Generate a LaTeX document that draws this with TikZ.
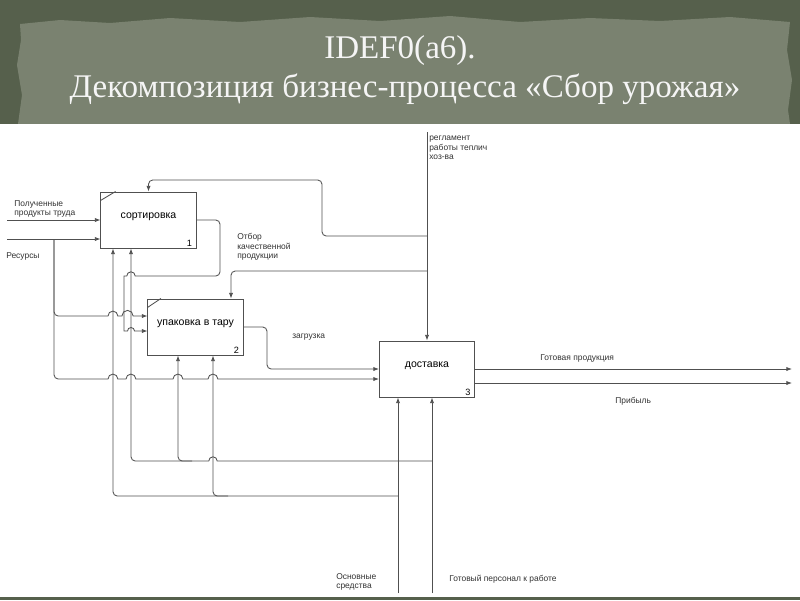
\documentclass[tikz,border=0pt]{standalone}
\usepackage{fontspec}
\setmainfont{Liberation Sans}
\newfontfamily\titlefont{Liberation Serif}
\usetikzlibrary{arrows.meta,positioning}

\definecolor{slidedark}{RGB}{86,96,76}
\definecolor{slidepanel}{RGB}{122,130,112}
\definecolor{linegray}{RGB}{80,80,80}

\tikzset{
  func/.style={draw=linegray, line width=0.7pt, minimum width=2.375cm, minimum height=1.4cm,
    inner sep=0pt, font=\fontsize{7.5}{9}\selectfont, text depth=6pt},
  num/.style={anchor=south east, inner xsep=3pt, inner ysep=1.5pt, font=\fontsize{6.5}{7}\selectfont},
  flow/.style={draw=linegray, line width=0.6pt, -{Latex[length=4pt,width=3pt]}, rounded corners=3pt},
  lbl/.style={anchor=west, align=left, inner sep=0pt, text=black!80, font=\fontsize{6}{6.8}\selectfont},
  title/.style={anchor=base, text=white!96!black, font=\titlefont\fontsize{23.5}{27}\selectfont},
}

\begin{document}
\begin{tikzpicture}[x=0.025cm,y=-0.025cm]
	\useasboundingbox (0,0) rectangle (800,600);

	% slide background
	\fill[slidedark] (0,0) rectangle (800,600);
	\fill[slidepanel] (20,24) -- (60,20) -- (110,23) -- (170,18) -- (240,22) -- (310,17) -- (380,21)
		-- (450,16) -- (520,22) -- (590,18) -- (660,21) -- (730,17) -- (790,22) -- (787,50)
		-- (792,80) -- (788,110) -- (790,124) -- (18,124) -- (22,95) -- (17,65) -- (21,40) -- cycle;
	\fill[white] (0,124) rectangle (800,597);

	\node[title] (ttl1) at (400,58) {IDEF0(a6).};
	\node[title] (ttl2) at (405,97) {Декомпозиция бизнес-процесса «Сбор урожая»};

	% functions
	\node[func] (sort) at (148.5,220) {сортировка};
	\node[func] (pack) at (195.5,327) {упаковка в тару};
	\node[func] (ship) at (427,369) {доставка};
	\node[num] (n1) at (sort.south east) {1};
	\node[num] (n2) at (pack.south east) {2};
	\node[num] (n3) at (ship.south east) {3};
	\draw[linegray, line width=0.6pt] ([yshift=-6.4pt]sort.north west) -- ([xshift=10.7pt]sort.north west);
	\draw[linegray, line width=0.6pt] ([yshift=-6.4pt]pack.north west) -- ([xshift=9.5pt]pack.north west);

	\coordinate (in1) at (7,220);
	\coordinate (in2) at (7,239);
	\coordinate (res) at (54,239);
	\coordinate (res2) at (54,316);
	\coordinate (res3) at (54,379);
	\coordinate (ctl) at (427,132);
	\coordinate (ctlA) at (427,236);
	\coordinate (ctlB) at (427,271);
	\coordinate (c2) at (231,271);
	\coordinate (osn) at (398,593);
	\coordinate (osnA) at (398,496);
	\coordinate (osnB) at (228,496);
	\coordinate (m1) at (113,496);
	\coordinate (m2) at (213,496);
	\coordinate (got) at (432,593);
	\coordinate (gotA) at (432,461);
	\coordinate (gotB) at (192,461);
	\coordinate (m3) at (131,461);
	\coordinate (m4) at (178,461);
	\coordinate (out1) at (792,369);
	\coordinate (out2) at (792,383);

	% inputs
	\draw[flow] (in1) -- (sort.west);
	\draw[flow] (in2) -- (sort.west |- in2);
	\draw[flow] (res) -- (res2) -- (80,316) [sharp corners] -- (108,316) arc[start angle=180,end angle=0,radius=3.5pt]
		-- (121.9,316) arc[start angle=180,end angle=0,radius=4pt] -- (pack.west |- res2);
	\draw[flow] (res) -- (res3) -- (80,379) [sharp corners] -- (108,379) arc[start angle=180,end angle=0,radius=3.5pt]
		-- (126,379) arc[start angle=180,end angle=0,radius=3.5pt]
		-- (173,379) arc[start angle=180,end angle=0,radius=3.5pt]
		-- (208,379) arc[start angle=180,end angle=0,radius=3.5pt] -- (ship.west |- res3);

	% outputs
	\draw[flow] (sort.east) -- (220,220) -- (220,276) -- (160,276) [sharp corners]
		-- (135.2,276) arc[start angle=0,end angle=180,radius=3pt] -- (124,276) -- (124,331)
		-- (127.5,331) arc[start angle=180,end angle=0,radius=2.5pt] -- (pack.west |- 0,331);
	\draw[flow] (pack.east) -- (267,327) -- (267,369) -- (ship.west);
	\draw[flow] (ship.east) -- (out1);
	\draw[flow] (ship.east |- out2) -- (out2);

	% controls
	\draw[flow] (ctl) -- (ship.north);
	\draw[flow] (ctlA) -- (322,236) -- (322,180) -- (148.5,180) -- (sort.north);
	\draw[flow] (ctlB) -- (c2) -- (c2 |- pack.north);

	% mechanisms
	\draw[flow] (osn) -- (osn |- ship.south);
	\draw[flow] (got) -- (got |- ship.south);
	\draw[flow] (osnA) -- (m1) -- (m1 |- sort.south);
	\draw[flow] (osnB) -- (m2) -- (m2 |- pack.south);
	\draw[flow] (gotA) [sharp corners] -- (217.2,461) arc[start angle=0,end angle=180,radius=3pt]
		-- (200,461) [rounded corners=3pt] -- (185,461) -- (m3) -- (m3 |- sort.south);
	\draw[flow] (gotB) -- (m4) -- (m4 |- pack.south);

	% labels
	\node[lbl] (lin1) at (14,209) {Полученные\\продукты труда};
	\node[lbl] (lres) at (6,256) {Ресурсы};
	\node[lbl] (lotb) at (237,247) {Отбор\\качественной\\продукции};
	\node[lbl] (lreg) at (429,148) {регламент\\работы теплич\\хоз-ва};
	\node[lbl] (lzag) at (292,337) {загрузка};
	\node[lbl] (lgot) at (540,358) {Готовая продукция};
	\node[lbl] (lprb) at (615,401) {Прибыль};
	\node[lbl] (losn) at (336,582) {Основные\\средства};
	\node[lbl] (lper) at (449,579) {Готовый персонал к работе};
\end{tikzpicture}
\end{document}
